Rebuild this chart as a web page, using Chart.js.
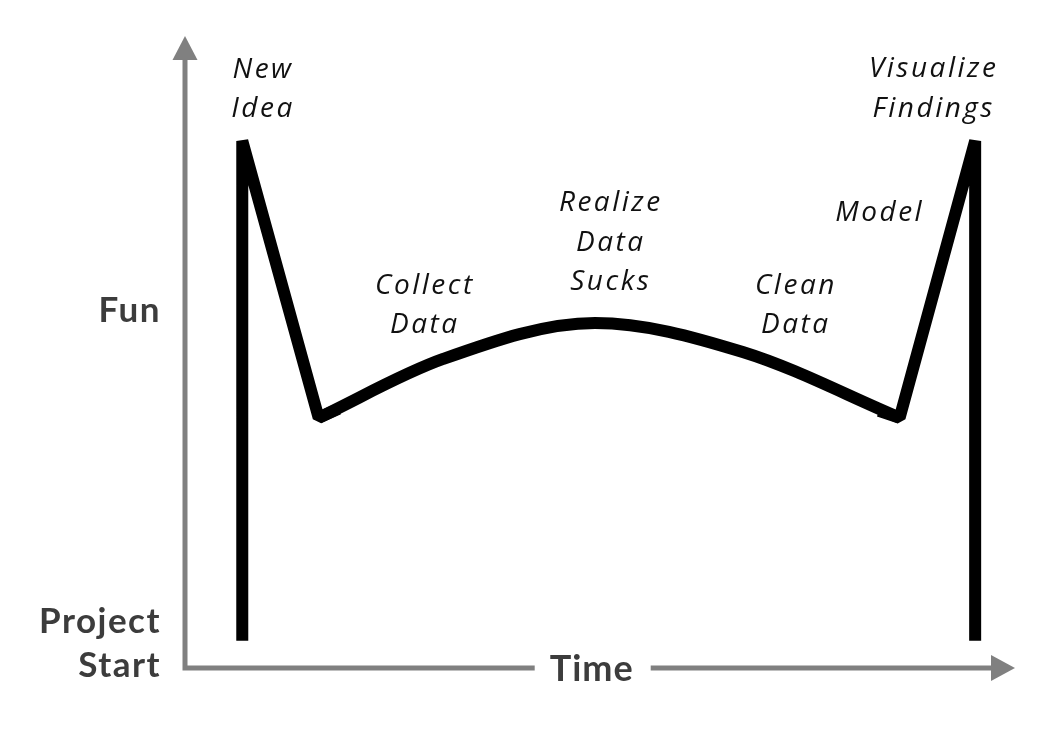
<!DOCTYPE html>
<html>
<head>
<meta charset="utf-8">
<title>Fun over a project</title>
<script src="https://cdn.jsdelivr.net/npm/chart.js@4/dist/chart.umd.min.js"></script>
<style>
  html, body { margin: 0; padding: 0; background: #fff; }
  #wrap { width: 1041px; height: 731px; }
</style>
</head>
<body>
<div id="wrap"><canvas id="fun-chart" width="1041" height="731"></canvas></div>
<script>
// Data (time 0-100, fun 0-100)
// straight arms: up at the start, down into collecting, up at the end (null = break)
const armTime = [6.9, 6.9, 16.1, 18.5, null, 83.6, 86.1, 95.2, 95.2];
const armFun  = [4.3, 83.4, 39.6, 41.0, null, 40.7, 39.6, 83.4, 4.3];
// the smooth hump in the middle
const humpTime = [16.1, 31.1, 49.4, 67.2, 86.1];
const humpFun  = [39.6, 48.9, 54.6, 50.0, 39.6];

// Stage labels, each anchored at a time / fun value (text centre, first baseline)
const stageNames = [['New', 'Idea'], ['Collect', 'Data'], ['Realize', 'Data', 'Sucks'], ['Clean', 'Data'], ['Model'], ['Visualize', 'Findings']];
const stageTime  = [9.4, 28.9, 51.3, 73.6, 83.7, 90.2];
const stageFun   = [93.4, 59.2, 72.3, 59.2, 70.7, 93.5];

// Axis texts (first baseline at the value)
const yTicks = [{ value: 54.7, lines: ['Fun'] }, { value: 5.5, lines: ['Project', 'Start'] }];
const xTitle = 'Time',
	xTitleAt = 49.0;

const axisColor = '#808080',
	boldColor = '#3c3c3c';

// Plugin that draws the arrows, axis texts and stage labels
const sketchPlugin = {
    id: 'sketch',
    beforeDatasetsDraw: function(chart){
        const ctx = chart.ctx;
        const xs = chart.scales.x, ys = chart.scales.y;
        const left = xs.getPixelForValue(0), bottom = ys.getPixelForValue(0);
        const top = ys.getPixelForValue(100), right = xs.getPixelForValue(100);

        ctx.save();
        ctx.strokeStyle = axisColor;
        ctx.fillStyle = axisColor;
        ctx.lineWidth = 5;
        ctx.lineCap = 'butt';

        // axis lines
        ctx.beginPath();
        ctx.moveTo(left, bottom + 2.5);
        ctx.lineTo(left, top + 22);
        ctx.moveTo(left - 2.5, bottom);
        ctx.lineTo(right - 22, bottom);
        ctx.stroke();

        // arrow heads
        ctx.beginPath();
        ctx.moveTo(left, top);
        ctx.lineTo(left - 12.5, top + 24);
        ctx.lineTo(left + 12.5, top + 24);
        ctx.closePath();
        ctx.fill();
        ctx.beginPath();
        ctx.moveTo(right, bottom);
        ctx.lineTo(right - 24, bottom - 13);
        ctx.lineTo(right - 24, bottom + 13);
        ctx.closePath();
        ctx.fill();

        // x title sits in a gap of the axis line
        ctx.font = 'bold 36px Lato';
        ctx.letterSpacing = '1px';
        ctx.textAlign = 'center';
        ctx.textBaseline = 'alphabetic';
        const tx = xs.getPixelForValue(xTitleAt);
        ctx.fillStyle = '#fff';
        ctx.fillRect(tx - 57, bottom - 6, 116, 12);
        ctx.fillStyle = boldColor;
        ctx.fillText(xTitle, tx, bottom + 13);

        // y texts, right aligned left of the axis
        ctx.textAlign = 'right';
        ctx.font = 'bold 35px Lato';
        ctx.letterSpacing = '1.5px';
        yTicks.forEach(function(t){
            let y = ys.getPixelForValue(t.value);
            t.lines.forEach(function(line, i){
                ctx.fillText(line, left - 24, y + i * 44);
            });
        });

        // stage labels
        ctx.textAlign = 'center';
        ctx.fillStyle = '#111';
        ctx.font = 'italic 28px "Open Sans"';
        ctx.letterSpacing = '2.5px';
        stageNames.forEach(function(lines, k){
            let x = xs.getPixelForValue(stageTime[k]);
            let y = ys.getPixelForValue(stageFun[k]);
            lines.forEach(function(line, i){
                ctx.fillText(line, x, y + i * 39.5);
            });
        });
        ctx.restore();
    }
};

const toPoints = (xs, ys) => xs.map((x, i) => ({ x: x, y: ys[i] }));

let ctx = document.getElementById('fun-chart').getContext('2d');
let chart = new Chart(ctx, {
    type: 'line',
    data: {
        datasets: [{
            data: toPoints(armTime, armFun),
            borderColor: '#000',
            borderWidth: 12,
            borderJoinStyle: 'bevel',
            borderCapStyle: 'butt',
            tension: 0,
            spanGaps: false,
            pointRadius: 0,
            fill: false
        }, {
            data: toPoints(humpTime, humpFun),
            borderColor: '#000',
            borderWidth: 12,
            borderCapStyle: 'butt',
            cubicInterpolationMode: 'monotone',
            pointRadius: 0,
            fill: false
        }]
    },
    options: {
        responsive: false,
        animation: false,
        layout: { padding: { left: 185, right: 26, top: 36, bottom: 63 } },
        plugins: { legend: { display: false }, tooltip: { enabled: false } },
        scales: {
            x: { type: 'linear', min: 0, max: 100, display: false },
            y: { type: 'linear', min: 0, max: 100, display: false }
        }
    },
    plugins: [sketchPlugin]
});
</script>
</body>
</html>
